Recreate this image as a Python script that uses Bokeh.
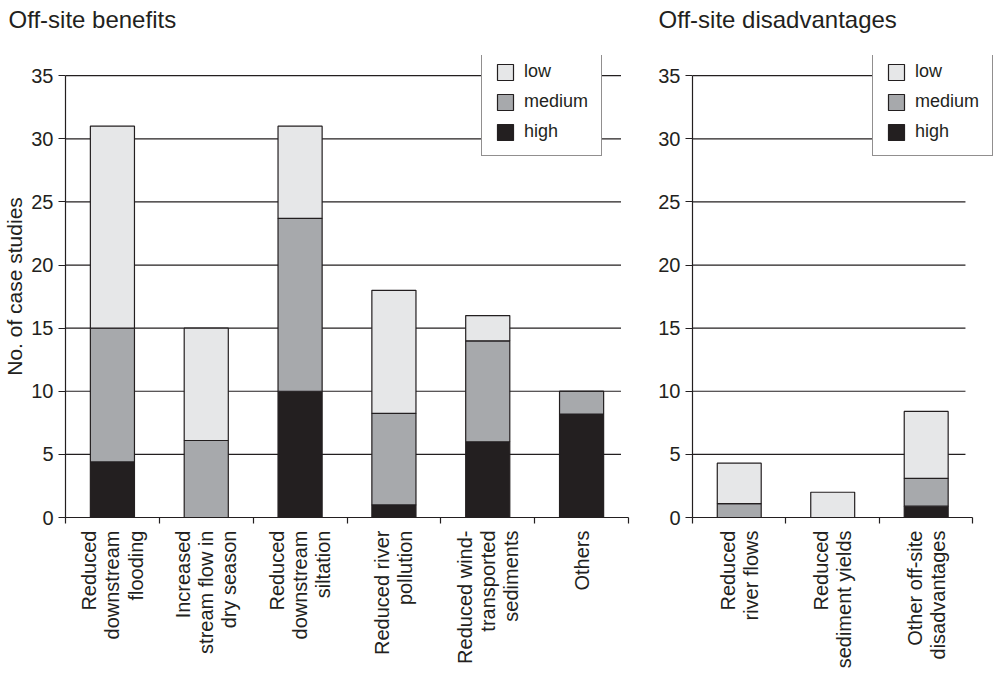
import math
from bokeh.plotting import figure
from bokeh.models import Range1d, FixedTicker, Legend, LegendItem, ColumnDataSource, Title
from bokeh.layouts import row
from bokeh.embed import file_html
from bokeh.resources import INLINE

# ---- data ----
benefit_labels = [
    "Reduced\ndownstream\nflooding",
    "Increased\nstream flow in\ndry season",
    "Reduced\ndownstream\nsiltation",
    "Reduced river\npollution",
    "Reduced wind-\ntransported\nsediments",
    "Others",
]
benefit_high = [4.4, 0.0, 10.0, 1.0, 6.0, 8.2]
benefit_medium = [10.6, 6.1, 13.7, 7.25, 8.0, 1.8]
benefit_low = [16.0, 8.9, 7.3, 9.75, 2.0, 0.0]

disadv_labels = [
    "Reduced\nriver flows",
    "Reduced\nsediment yields",
    "Other off-site\ndisadvantages",
]
disadv_high = [0.0, 0.0, 0.9]
disadv_medium = [1.1, 0.0, 2.2]
disadv_low = [3.2, 2.0, 5.3]

y_ticks = [0, 5, 10, 15, 20, 25, 30, 35]
stack_levels = ["high", "medium", "low"]
legend_order = ["low", "medium", "high"]
level_colors = {"low": "#e6e7e8", "medium": "#a7a9ac", "high": "#231f20"}

FONT = "Liberation Sans"
INK = "#231f20"
HEIGHT = 672


def make_panel(title, labels, high, medium, low, width, border_left, border_right,
               title_offset, legend_x, x_end_extra=0.0, ylabel=None):
    n = len(labels)
    xs = list(range(n))
    src = ColumnDataSource(dict(x=xs, high=high, medium=medium, low=low))
    p = figure(width=width, height=HEIGHT,
               x_range=Range1d(-0.5, n - 0.5 + x_end_extra), y_range=Range1d(0, 36.6),
               output_backend="svg", toolbar_location=None,
               min_border_left=border_left, min_border_right=border_right,
               min_border_top=55, min_border_bottom=HEIGHT - 517)
    p.outline_line_color = None
    p.background_fill_color = "white"
    p.border_fill_color = "white"

    # title (a thin spacer between title and frame lifts the title to the top)
    p.title.text = title
    p.title.text_font = FONT
    p.title.text_font_size = "24px"
    p.title.text_font_style = "normal"
    p.title.text_color = INK
    p.title.align = "left"
    p.title.vertical_align = "top"
    p.title.offset = title_offset
    p.title.standoff = 10
    p.add_layout(Title(text=" ", text_font_size="1px", standoff=13), "above")

    # horizontal rules at the y ticks (ending just short of the last category edge)
    p.xgrid.visible = False
    p.ygrid.visible = False
    grid_src = ColumnDataSource(dict(y=y_ticks,
                                     x0=[-0.5] * len(y_ticks),
                                     x1=[n - 0.58] * len(y_ticks)))
    p.segment(x0="x0", x1="x1", y0="y", y1="y", source=grid_src,
              line_color=INK, line_width=1.2)

    # y axis
    yax = p.yaxis[0]
    yax.ticker = FixedTicker(ticks=y_ticks)
    yax.bounds = (0, 35)
    yax.axis_line_color = INK
    yax.axis_line_width = 1.2
    yax.major_tick_line_color = INK
    yax.major_tick_line_width = 1.2
    yax.major_tick_out = 7
    yax.major_tick_in = 0
    yax.minor_tick_line_color = None
    yax.major_label_standoff = 5
    yax.major_label_text_font = FONT
    yax.major_label_text_font_size = "20px"
    yax.major_label_text_color = INK
    if ylabel:
        yax.axis_label = ylabel
        yax.axis_label_text_font = FONT
        yax.axis_label_text_font_size = "21px"
        yax.axis_label_text_font_style = "normal"
        yax.axis_label_text_color = INK
        yax.axis_label_standoff = 2

    # x axis: labels at bar centres, tick marks between categories
    xax = p.xaxis[0]
    xax.ticker = FixedTicker(ticks=xs, minor_ticks=[i - 0.5 for i in range(n + 1)])
    xax.bounds = (-0.5, n - 0.5)
    xax.major_label_overrides = {i: lab for i, lab in zip(xs, labels)}
    xax.major_label_orientation = math.pi / 2
    xax.major_label_text_align = "right"
    xax.major_tick_out = 0
    xax.major_tick_in = 0
    xax.minor_tick_out = 6
    xax.minor_tick_in = 0
    xax.minor_tick_line_color = INK
    xax.minor_tick_line_width = 1.2
    xax.axis_line_color = INK
    xax.axis_line_width = 1.2
    xax.major_label_standoff = 7
    xax.major_label_text_font = FONT
    xax.major_label_text_font_size = "20px"
    xax.major_label_text_line_height = 1.05
    xax.major_label_text_color = INK

    rs = p.vbar_stack(stack_levels, x="x", width=0.47, source=src,
                      fill_color=[level_colors[k] for k in stack_levels],
                      line_color=INK, line_width=1.2)
    by_name = dict(zip(stack_levels, rs))
    items = [LegendItem(label=k, renderers=[by_name[k]]) for k in legend_order]
    leg = Legend(items=items, location=(legend_x, 361), margin=0, padding=13,
                 spacing=9, glyph_width=20, glyph_height=20, label_standoff=9,
                 label_text_font=FONT, label_text_font_size="18px",
                 label_text_color=INK, border_line_color=INK,
                 border_line_width=1.2, background_fill_color="white",
                 background_fill_alpha=1.0)
    p.add_layout(leg)
    return p


p1 = make_panel("Off-site benefits", benefit_labels, benefit_high, benefit_medium,
                benefit_low, width=636, border_left=65, border_right=8,
                title_offset=-57, legend_x=416, ylabel="No. of case studies")
p2 = make_panel("Off-site disadvantages", disadv_labels, disadv_high, disadv_medium,
                disadv_low, width=360, border_left=56, border_right=3,
                title_offset=-34, legend_x=180, x_end_extra=0.22)

layout = row(p1, p2)
open("out.html", "w").write(file_html(layout, INLINE))
